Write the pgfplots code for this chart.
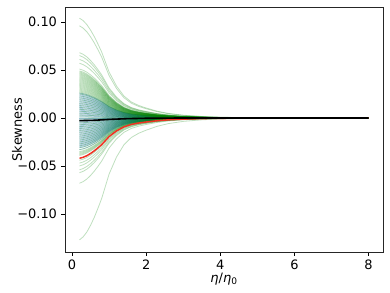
\documentclass[border=0pt]{standalone}
\usepackage{fontspec}
\setmainfont{DejaVu Sans}
\usepackage{pgfplots}
\usepackage{pgfplotstable}
\pgfplotsset{compat=1.18}

\definecolor{mplgreen}{RGB}{0,128,0}
\definecolor{mplblue}{RGB}{31,119,180}
\definecolor{mplred}{RGB}{240,50,35}

% common decay profile of the curves (value / value at eta/eta0 = 0.2)
\pgfplotstableread{
x    s
0.2  1.000
0.3  0.975
0.4  0.935
0.5  0.880
0.6  0.815
0.7  0.740
0.8  0.660
0.9  0.560
1.0  0.460
1.2  0.320
1.4  0.220
1.6  0.160
1.8  0.125
2.0  0.100
2.3  0.068
2.6  0.046
3.0  0.028
3.5  0.015
4.0  0.008
4.5  0.004
5.0  0.002
6.0  0.0005
7.0  0.0001
8.0  0.0
}\profile

\pgfplotstableread{
x    y
0.2  -0.0028
0.6  -0.0024
1.0  -0.0015
1.5  -0.0007
2.0  -0.0003
3.0  0.0
8.0  0.0
}\mean

\begin{document}
\fontsize{13}{15}\selectfont
\begin{tikzpicture}
\useasboundingbox (-65bp,-41bp) rectangle (325bp,252bp);
\begin{axis}[
    at={(0,0)}, anchor=south west,
    scale only axis,
    width=318bp, height=245bp,
    xmin=-0.19, xmax=8.39,
    ymin=-0.1396, ymax=0.1156,
    xtick={0,2,4,6,8},
    xticklabels={0,2,4,6,8},
    ytick={-0.10,-0.05,0,0.05,0.10},
    yticklabels={−0.10,−0.05,0.00,0.05,0.10},
    tick align=outside,
    xtick pos=bottom, ytick pos=left,
    major tick length=3.5bp,
    every tick/.style={black, line width=0.8bp},
    axis line style={line width=0.8bp, black!85},
    ticklabel style={font=\fontsize{13}{15}\selectfont},
    xlabel={\textit{η}/\textit{η}\textsubscript{0}},
    ylabel={Skewness},
    label style={font=\fontsize{13}{15}\selectfont},
    every axis x label/.style={at={(axis description cs:0.5,-0.11)}, anchor=center},
    every axis y label/.style={at={(axis description cs:-0.151,0.5)}, rotate=90, anchor=center},
]
% blue ensemble
\pgfplotsforeachungrouped \a in {0.026,0.025,0.024,0.023,0.022,0.021,0.020,0.019,0.018,0.017,0.016,0.015,0.014,0.013,0.012,0.011,0.010,0.009,0.008,0.007,0.006,0.005,0.004,0.003,0.002,0.001,0.000,-0.001,-0.002,-0.003,-0.004,-0.005,-0.006,-0.007,-0.008,-0.009,-0.010,-0.011,-0.012,-0.013,-0.014,-0.015,-0.016,-0.017,-0.018,-0.019,-0.020,-0.021,-0.022,-0.023,-0.024,-0.025,-0.026,-0.027,-0.028,-0.029,-0.030,-0.031,-0.033}{
  \addplot[mplblue, opacity=0.35, line width=0.7bp] table[x=x, y expr=\thisrow{s}*\a] {\profile};
}
% green ensemble
\pgfplotsforeachungrouped \a in {0.104,0.096,0.068,0.065,0.061,0.057,0.051,0.049,0.048,0.047,0.046,0.045,0.044,0.043,0.042,0.041,0.040,0.039,0.038,0.037,0.036,0.035,0.034,0.033,0.032,0.031,0.030,0.029,0.028,0.027,0.026,0.025,0.023,0.021,0.019,0.017,0.015,0.013,0.011,0.009,0.007,0.005,0.003,0.001,-0.001,-0.003,-0.005,-0.007,-0.009,-0.011,-0.013,-0.015,-0.017,-0.019,-0.021,-0.023,-0.025,-0.027,-0.029,-0.031,-0.033,-0.035,-0.036,-0.037,-0.038,-0.039,-0.044,-0.047,-0.050,-0.054,-0.057,-0.068,-0.127}{
  \addplot[mplgreen, opacity=0.25, line width=0.8bp] table[x=x, y expr=\thisrow{s}*\a] {\profile};
}
% highlighted case
\addplot[mplred, line width=1.5bp] table[x=x, y expr=\thisrow{s}*(-0.042)] {\profile};
% ensemble mean
\addplot[black, line width=1.6bp] table[x=x, y=y] {\mean};
\end{axis}
\end{tikzpicture}
\end{document}
